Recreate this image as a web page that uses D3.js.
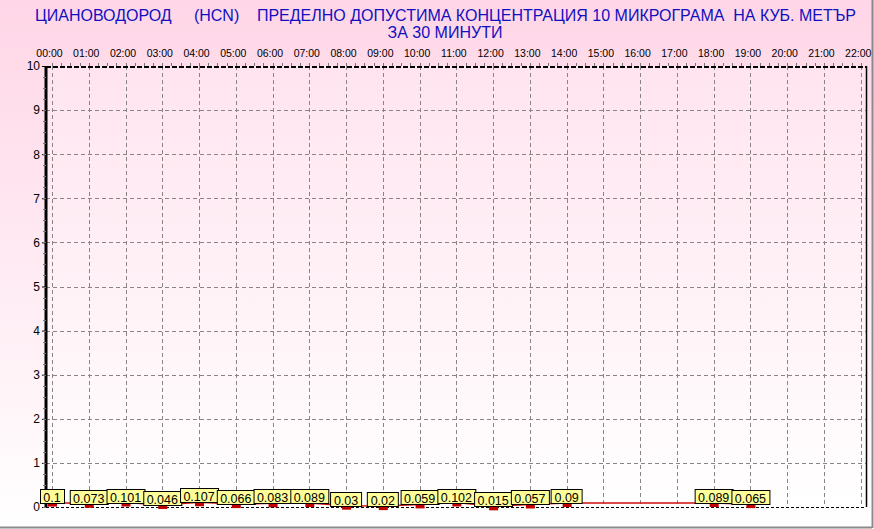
<!DOCTYPE html>
<html>
<head>
<meta charset="utf-8">
<script src="https://cdn.jsdelivr.net/npm/d3@7"></script>
<style>
  body { margin: 0; padding: 0; overflow: hidden; }
  svg { display: block; font-family: "Liberation Sans", Arial, sans-serif; }
</style>
</head>
<body>
<script>
// Chart data.
var hourLabels = ["00:00", "01:00", "02:00", "03:00", "04:00", "05:00", "06:00", "07:00",
                  "08:00", "09:00", "10:00", "11:00", "12:00", "13:00", "14:00", "15:00",
                  "16:00", "17:00", "18:00", "19:00", "20:00", "21:00", "22:00"];
var hours  = [0, 1, 2, 3, 4, 5, 6, 7, 8, 9, 10, 11, 12, 13, 14, 18, 19];
var values = [0.1, 0.073, 0.101, 0.046, 0.107, 0.066, 0.083, 0.089, 0.03, 0.02,
              0.059, 0.102, 0.015, 0.057, 0.09, 0.089, 0.065];
var yTicks = [0, 1, 2, 3, 4, 5, 6, 7, 8, 9, 10];
var titleLine1 = "ЦИАНОВОДОРОД     (HCN)    ПРЕДЕЛНО ДОПУСТИМА КОНЦЕНТРАЦИЯ 10 МИКРОГРАМА  НА КУБ. МЕТЪР";
var titleLine2 = "ЗА 30 МИНУТИ";

// Canvas and plot box.
var width   = 874,
    height  = 529,
    pLeft   = 46,
    pRight  = 866,
    pTop    = 66,
    pBottom = 507;

var data = hours.map(function(h, i) { return { h: h, v: values[i] }; });

var svg = d3.select("body")
    .append("svg")
    .attr("width", width)
    .attr("height", height);

// Background gradients.
var defs = svg.append("defs");
var bg = defs.append("linearGradient").attr("id", "bg")
    .attr("x1", 0).attr("y1", 0).attr("x2", 0).attr("y2", 1);
bg.append("stop").attr("offset", "0%").attr("stop-color", "#ffd6e7");
bg.append("stop").attr("offset", "100%").attr("stop-color", "#ffffff");
var pg = defs.append("linearGradient").attr("id", "pg")
    .attr("x1", 0).attr("y1", 0).attr("x2", 0).attr("y2", 1);
pg.append("stop").attr("offset", "0%").attr("stop-color", "#ffe4ef");
pg.append("stop").attr("offset", "100%").attr("stop-color", "#ffffff");

svg.append("rect")
    .attr("width", width).attr("height", height)
    .attr("fill", "url(#bg)");

// Gray frame at right and bottom.
svg.append("line").attr("x1", 0).attr("x2", 872).attr("y1", 527.5).attr("y2", 527.5)
    .attr("stroke", "#8a8a8a").attr("stroke-width", 2);
svg.append("line").attr("x1", 872.5).attr("x2", 872.5).attr("y1", 0).attr("y2", 528)
    .attr("stroke", "#8a8a8a").attr("stroke-width", 2);

// Plot area.
svg.append("rect")
    .attr("x", pLeft).attr("y", pTop)
    .attr("width", pRight - pLeft).attr("height", pBottom - pTop)
    .attr("fill", "url(#pg)");

// Scales.
var x = d3.scaleLinear().domain([0, 22]).range([52, 860.7]);
var y = d3.scaleLinear().domain([0, 10]).range([pBottom, pTop]);

// Title.
svg.append("text")
    .attr("x", 35).attr("y", 21)
    .attr("font-size", "16px")
    .attr("fill", "#1010c0")
    .attr("textLength", 821)
    .attr("lengthAdjust", "spacing")
    .style("white-space", "pre")
    .text(titleLine1);
svg.append("text")
    .attr("x", 445).attr("y", 38)
    .attr("text-anchor", "middle")
    .attr("font-size", "16px")
    .attr("fill", "#1010c0")
    .text(titleLine2);

// Horizontal grid.
svg.append("g").selectAll("line")
    .data(yTicks.filter(function(d) { return d > 0 && d < 10; }))
  .enter().append("line")
    .attr("x1", pLeft).attr("x2", pRight)
    .attr("y1", function(d) { return Math.round(y(d)) + 0.5; })
    .attr("y2", function(d) { return Math.round(y(d)) + 0.5; })
    .attr("stroke", "#8c8484")
    .attr("stroke-dasharray", "4,3");

// Vertical grid.
svg.append("g").selectAll("line")
    .data(d3.range(hourLabels.length))
  .enter().append("line")
    .attr("x1", function(d) { return Math.round(x(d)) + 0.5; })
    .attr("x2", function(d) { return Math.round(x(d)) + 0.5; })
    .attr("y1", pTop).attr("y2", pBottom)
    .attr("stroke", "#8c8484")
    .attr("stroke-dasharray", "4,3");

// Top hour labels.
var xAxis = d3.axisTop(x)
    .tickValues(d3.range(hourLabels.length))
    .tickFormat(function(d) { return hourLabels[d]; })
    .tickSize(0)
    .tickPadding(0);
var gx = svg.append("g")
    .attr("transform", "translate(-3," + 57 + ")")
    .call(xAxis);
gx.select(".domain").remove();
gx.selectAll("text").attr("font-size", "10.5px").attr("fill", "#000")
    .attr("font-family", "'Liberation Sans', Arial, sans-serif");

// Minor ticks above top border.
svg.append("g").selectAll("line")
    .data(d3.range(0, 22.01, 0.25))
  .enter().append("line")
    .attr("x1", function(d) { return Math.round(x(d)) + 0.5; })
    .attr("x2", function(d) { return Math.round(x(d)) + 0.5; })
    .attr("y1", pTop - 3).attr("y2", pTop)
    .attr("stroke", "#777");

// Frame: top dashed, bottom dashed, right solid.
svg.append("line").attr("x1", pLeft).attr("x2", pRight).attr("y1", pTop + 1).attr("y2", pTop + 1)
    .attr("stroke", "#000").attr("stroke-width", 2).attr("stroke-dasharray", "5,2");
svg.append("line").attr("x1", pLeft).attr("x2", pRight).attr("y1", pBottom + 0.5).attr("y2", pBottom + 0.5)
    .attr("stroke", "#000").attr("stroke-dasharray", "3,2");
svg.append("line").attr("x1", pRight + 0.5).attr("x2", pRight + 0.5).attr("y1", pTop).attr("y2", pBottom)
    .attr("stroke", "#000").attr("stroke-width", 1.5);

// Y axis.
var yAxis = d3.axisLeft(y)
    .tickValues(yTicks)
    .tickSize(4)
    .tickPadding(2);
var gy = svg.append("g")
    .attr("transform", "translate(" + pLeft + ",0)")
    .call(yAxis);
gy.select(".domain").attr("stroke-width", 3).attr("d", "M0," + pTop + "V" + pBottom);
gy.selectAll("text").attr("font-size", "12px").attr("fill", "#000")
    .attr("font-family", "'Liberation Sans', Arial, sans-serif");

// Minor ticks on the y axis.
svg.append("g").selectAll("line")
    .data(d3.range(0, 10, 0.25))
  .enter().append("line")
    .attr("x1", pLeft - 3).attr("x2", pLeft)
    .attr("y1", function(d) { return Math.round(y(d)) + 0.5; })
    .attr("y2", function(d) { return Math.round(y(d)) + 0.5; })
    .attr("stroke", "#777");

// Series line.
var line = d3.line()
    .x(function(d) { return x(d.h); })
    .y(function(d) { return y(d.v); });
svg.append("path")
    .datum(data)
    .attr("d", line)
    .attr("fill", "none")
    .attr("stroke", "#d01010")
    .attr("stroke-width", 1.5);

// Markers.
svg.append("g").selectAll("rect")
    .data(data)
  .enter().append("rect")
    .attr("x", function(d) { return x(d.h) - 4; })
    .attr("y", function(d) { return y(d.v) - 1; })
    .attr("width", 9)
    .attr("height", 5)
    .attr("fill", "#c00000");

// Value labels.
var labels = svg.append("g").selectAll("g")
    .data(data)
  .enter().append("g")
    .attr("transform", function(d) {
        return "translate(" + x(d.h) + "," + Math.round(y(d.v) - 13) + ")";
    });
labels.append("text")
    .attr("text-anchor", "middle")
    .attr("y", 11.5)
    .attr("font-size", "12.5px")
    .attr("fill", "#000")
    .text(function(d) { return d.v; });
labels.each(function() {
    var g = d3.select(this);
    var w = g.select("text").node().getComputedTextLength() + 7;
    g.insert("rect", "text")
        .attr("x", Math.round(-w / 2) + 0.5)
        .attr("y", -0.5)
        .attr("width", Math.round(w))
        .attr("height", 14)
        .attr("fill", "#ffff99")
        .attr("stroke", "#000");
});
</script>
</body>
</html>
